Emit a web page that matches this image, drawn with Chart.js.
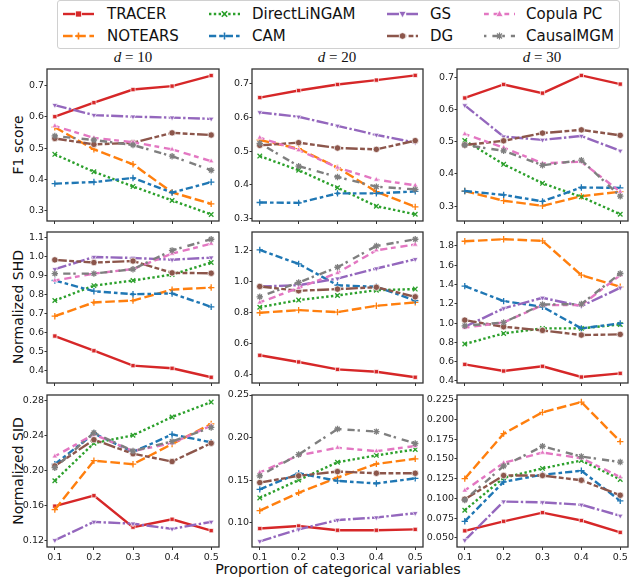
<!DOCTYPE html>
<html lang="en">
<head>
  <meta charset="UTF-8">
  <title>Results vs proportion of categorical variables</title>
  <script src="https://cdn.jsdelivr.net/npm/chart.js"></script>
  <style>
    body {
      margin: 0;
      width: 632px;
      height: 581px;
      position: relative;
      overflow: hidden;
      background: #fff;
      font-family: "DejaVu Sans", sans-serif;
      color: #111;
    }
    canvas { position: absolute; }
    .ylabel {
      position: absolute;
      font-size: 14px;
      line-height: 16px;
      white-space: nowrap;
      transform: translate(-50%, -50%) rotate(-90deg);
    }
    .coltitle {
      position: absolute;
      top: 49px;
      font-family: "Liberation Serif", "DejaVu Serif", serif;
      font-size: 15px;
      line-height: 16px;
      white-space: nowrap;
      transform: translateX(-50%);
    }
    .xlabel {
      position: absolute;
      left: 338px;
      top: 561px;
      font-size: 14.3px;
      line-height: 16px;
      white-space: nowrap;
      transform: translateX(-50%);
    }
    #legend {
      position: absolute;
      left: 57px;
      top: 0px;
      width: 561px;
      height: 47px;
      border: 1px solid #d0d0d0;
      border-radius: 3px;
      background: #fff;
    }
    .item {
      position: absolute;
      font-size: 15px;
      line-height: 18px;
      white-space: nowrap;
    }
    .item svg { position: absolute; top: 4px; }
  </style>
</head>
<body>
  <div id="legend"></div>
  <div class="coltitle" style="left:133px"><i>d</i> = 10</div>
  <div class="coltitle" style="left:337px"><i>d</i> = 20</div>
  <div class="coltitle" style="left:542px"><i>d</i> = 30</div>
  <div class="ylabel" style="left:17.5px; top:145px">F1 score</div>
  <div class="ylabel" style="left:17.5px; top:307px">Normalized SHD</div>
  <div class="ylabel" style="left:17.5px; top:471px">Normalized SID</div>
  <div class="xlabel">Proportion of categorical variables</div>

  <script>
    const proportions = [0.1, 0.2, 0.3, 0.4, 0.5];
    const methods = ['TRACER', 'NOTEARS', 'DirectLiNGAM', 'CAM', 'GS', 'DG', 'Copula PC', 'CausalMGM'];

    // one row per method, same order as `methods`
    const f1_d10 = [
      [0.601, 0.646, 0.688, 0.699, 0.733],
      [0.567, 0.496, 0.448, 0.358, 0.321],
      [0.480, 0.424, 0.377, 0.332, 0.287],
      [0.386, 0.391, 0.404, 0.357, 0.391],
      [0.638, 0.606, 0.601, 0.598, 0.594],
      [0.531, 0.512, 0.517, 0.549, 0.542],
      [0.571, 0.533, 0.519, 0.496, 0.458],
      [0.539, 0.526, 0.510, 0.474, 0.429]
    ];
    const f1_d20 = [
      [0.659, 0.680, 0.698, 0.711, 0.725],
      [0.533, 0.507, 0.451, 0.379, 0.334],
      [0.485, 0.443, 0.391, 0.336, 0.312],
      [0.347, 0.346, 0.374, 0.374, 0.380],
      [0.615, 0.602, 0.575, 0.548, 0.525],
      [0.517, 0.525, 0.509, 0.505, 0.531],
      [0.540, 0.503, 0.451, 0.415, 0.398],
      [0.523, 0.455, 0.423, 0.394, 0.386]
    ];
    const f1_d30 = [
      [0.636, 0.678, 0.651, 0.706, 0.679],
      [0.347, 0.317, 0.301, 0.331, 0.345],
      [0.504, 0.430, 0.371, 0.329, 0.275],
      [0.347, 0.335, 0.315, 0.358, 0.357],
      [0.613, 0.516, 0.506, 0.518, 0.472],
      [0.490, 0.503, 0.527, 0.537, 0.520],
      [0.524, 0.482, 0.433, 0.438, 0.345],
      [0.490, 0.472, 0.427, 0.443, 0.331]
    ];
    const shd_d10 = [
      [0.583, 0.506, 0.428, 0.414, 0.367],
      [0.687, 0.759, 0.769, 0.826, 0.837],
      [0.769, 0.847, 0.874, 0.905, 0.968],
      [0.874, 0.818, 0.802, 0.806, 0.736],
      [0.933, 0.997, 0.992, 0.983, 0.994],
      [0.982, 0.968, 0.976, 0.914, 0.912],
      [0.874, 0.910, 0.934, 1.015, 1.067],
      [0.910, 0.910, 0.933, 1.032, 1.090]
    ];
    const shd_d20 = [
      [0.523, 0.480, 0.432, 0.417, 0.381],
      [0.798, 0.815, 0.802, 0.843, 0.865],
      [0.834, 0.880, 0.910, 0.944, 0.951],
      [1.204, 1.114, 0.976, 0.966, 0.877],
      [0.968, 0.976, 1.019, 1.084, 1.144],
      [0.968, 0.940, 0.951, 0.963, 0.901],
      [0.865, 0.959, 1.056, 1.202, 1.239],
      [0.901, 0.994, 1.092, 1.230, 1.273]
    ];
    const shd_d30 = [
      [0.572, 0.503, 0.552, 0.441, 0.479],
      [1.848, 1.869, 1.852, 1.497, 1.376],
      [0.783, 0.893, 0.945, 0.945, 0.986],
      [1.383, 1.228, 1.169, 0.945, 0.997],
      [0.962, 1.152, 1.262, 1.176, 1.366],
      [1.031, 0.962, 0.924, 0.876, 0.883],
      [0.952, 1.007, 1.186, 1.186, 1.497],
      [0.972, 1.007, 1.193, 1.197, 1.514]
    ];
    const sid_d10 = [
      [0.159, 0.171, 0.135, 0.144, 0.131],
      [0.155, 0.211, 0.207, 0.230, 0.253],
      [0.188, 0.231, 0.240, 0.261, 0.278],
      [0.207, 0.242, 0.221, 0.241, 0.232],
      [0.120, 0.141, 0.139, 0.133, 0.141],
      [0.205, 0.235, 0.219, 0.210, 0.231],
      [0.216, 0.241, 0.222, 0.231, 0.251],
      [0.203, 0.243, 0.222, 0.233, 0.249]
    ];
    const sid_d20 = [
      [0.093, 0.096, 0.091, 0.091, 0.092],
      [0.114, 0.135, 0.153, 0.169, 0.175],
      [0.129, 0.150, 0.171, 0.179, 0.186],
      [0.139, 0.158, 0.149, 0.146, 0.152],
      [0.078, 0.092, 0.103, 0.106, 0.111],
      [0.147, 0.155, 0.160, 0.158, 0.158],
      [0.159, 0.179, 0.188, 0.184, 0.190],
      [0.155, 0.180, 0.210, 0.207, 0.193]
    ];
    const sid_d30 = [
      [0.059, 0.071, 0.082, 0.072, 0.057],
      [0.125, 0.182, 0.209, 0.222, 0.172],
      [0.085, 0.126, 0.138, 0.148, 0.124],
      [0.071, 0.121, 0.130, 0.135, 0.097],
      [0.047, 0.096, 0.095, 0.092, 0.078],
      [0.099, 0.129, 0.129, 0.123, 0.104],
      [0.110, 0.145, 0.158, 0.151, 0.127],
      [0.098, 0.141, 0.166, 0.153, 0.146]
    ];

    const f1Ticks = [0.3, 0.4, 0.5, 0.6, 0.7];
    const shdTicks_d10 = [0.4, 0.5, 0.6, 0.7, 0.8, 0.9, 1.0, 1.1];
    const shdTicks_d20 = [0.4, 0.6, 0.8, 1.0, 1.2];
    const shdTicks_d30 = [0.4, 0.6, 0.8, 1.0, 1.2, 1.4, 1.6, 1.8];
    const sidTicks_d10 = [0.12, 0.16, 0.20, 0.24, 0.28];
    const sidTicks_d20 = [0.10, 0.15, 0.20, 0.25];
    const sidTicks_d30 = [0.050, 0.075, 0.100, 0.125, 0.150, 0.175, 0.200, 0.225];

    // styling (matplotlib tab10 + seaborn dash patterns)
    const colors = ['#d62728', '#ff7f0e', '#2ca02c', '#1f77b4', '#9467bd', '#8c564b', '#e377c2', '#7f7f7f'];
    const LW = 2.4;
    const dashes = [[], [4, 1.5], [1, 1], [3, 1.25, 1.5, 1.25], [5, 1, 1, 1], [5, 1, 2, 1, 2, 1], [2, 2, 3, 1.5], [1, 2.5, 3, 1.2]]
      .map(d => d.map(v => v * LW));
    const markers = ['rect', 'cross', 'crossRot', 'cross', 'triangle', 'circle', 'triangle', 'star'];
    const rotations = [0, 0, 0, 0, 180, 0, 0, 0];
    const strokeMarkers = ['cross', 'crossRot', 'star'];

    // layout of the plot areas (px)
    const plotL = [47, 252, 457], plotW = [172, 171, 171];
    const plotT = [69, 232, 395], plotH = [152, 151, 152];
    const YW = 44, PT = 8, PR = 6, XH = 22;

    const framePlugin = {
      id: 'frame',
      afterDraw(chart) {
        const a = chart.chartArea, ctx = chart.ctx;
        ctx.save();
        ctx.strokeStyle = '#333';
        ctx.lineWidth = 1.3;
        ctx.strokeRect(a.left, a.top, a.right - a.left, a.bottom - a.top);
        ctx.restore();
      }
    };

    function makePanel(row, col, series, yMin, yMax, yTicks, decimals) {
      const canvas = document.createElement('canvas');
      const w = YW + plotW[col] + PR, h = PT + plotH[row] + XH;
      canvas.width = w; canvas.height = h;
      canvas.style.left = (plotL[col] - YW) + 'px';
      canvas.style.top = (plotT[row] - PT) + 'px';
      canvas.style.width = w + 'px'; canvas.style.height = h + 'px';
      document.body.appendChild(canvas);

      const datasets = series.map((vals, i) => {
        const stroke = strokeMarkers.includes(markers[i]);
        return {
          label: methods[i],
          data: proportions.map((x, k) => ({ x: x, y: vals[k] })),
          borderColor: colors[i],
          borderWidth: LW,
          borderDash: dashes[i],
          pointStyle: markers[i],
          pointRotation: rotations[i],
          pointRadius: markers[i] === 'rect' ? 3 : 3.2,
          pointBackgroundColor: colors[i],
          pointBorderColor: stroke ? colors[i] : '#fff',
          pointBorderWidth: stroke ? 1.3 : 0.7,
          order: methods.length - i,
          tension: 0
        };
      });

      new Chart(canvas, {
        type: 'line',
        data: { datasets },
        options: {
          responsive: false,
          animation: false,
          devicePixelRatio: 1,
          layout: { padding: { top: PT, right: PR, left: 0, bottom: 0 } },
          plugins: { legend: { display: false }, tooltip: { enabled: false } },
          scales: {
            x: {
              type: 'linear',
              min: 0.08,
              max: 0.52,
              afterBuildTicks: s => { s.ticks = proportions.map(v => ({ value: v })); },
              afterFit: s => { s.height = XH; },
              ticks: {
                autoSkip: false,
                maxRotation: 0,
                padding: 2,
                color: '#222',
                font: { family: 'DejaVu Sans', size: 9.5 },
                callback: v => row === 2 ? v.toFixed(1) : ''
              },
              grid: { drawOnChartArea: false, drawTicks: true, tickLength: 3, color: '#333' },
              border: { display: false }
            },
            y: {
              min: yMin,
              max: yMax,
              afterBuildTicks: s => { s.ticks = yTicks.map(v => ({ value: v })); },
              afterFit: s => { s.width = YW; },
              ticks: {
                padding: 0.5,
                color: '#222',
                font: { family: 'DejaVu Sans', size: 9.5 },
                callback: v => v.toFixed(decimals)
              },
              grid: { drawOnChartArea: false, drawTicks: true, tickLength: 2.5, color: '#333' },
              border: { display: false }
            }
          }
        },
        plugins: [framePlugin]
      });
    }

    makePanel(0, 0, f1_d10, 0.266, 0.754, f1Ticks, 1);
    makePanel(0, 1, f1_d20, 0.292, 0.744, f1Ticks, 1);
    makePanel(0, 2, f1_d30, 0.254, 0.726, f1Ticks, 1);
    makePanel(1, 0, shd_d10, 0.337, 1.128, shdTicks_d10, 1);
    makePanel(1, 1, shd_d20, 0.344, 1.320, shdTicks_d20, 1);
    makePanel(1, 2, shd_d30, 0.379, 1.944, shdTicks_d30, 1);
    makePanel(2, 0, sid_d10, 0.1123, 0.2861, sidTicks_d10, 2);
    makePanel(2, 1, sid_d20, 0.0713, 0.250, sidTicks_d20, 2);
    makePanel(2, 2, sid_d30, 0.0385, 0.2309, sidTicks_d30, 3);

    // legend: line samples drawn as small svgs
    function markerSvg(i, cx, cy) {
      const c = colors[i];
      switch (markers[i]) {
        case 'rect': return `<rect x="${cx - 3}" y="${cy - 3}" width="6" height="6" fill="${c}" stroke="#fff" stroke-width="0.7"/>`;
        case 'circle': return `<circle cx="${cx}" cy="${cy}" r="3.3" fill="${c}" stroke="#fff" stroke-width="0.7"/>`;
        case 'cross': return `<path d="M${cx - 3.5} ${cy}H${cx + 3.5}M${cx} ${cy - 3.5}V${cy + 3.5}" stroke="${c}" stroke-width="1.6"/>`;
        case 'crossRot': return `<path d="M${cx - 2.7} ${cy - 2.7}L${cx + 2.7} ${cy + 2.7}M${cx + 2.7} ${cy - 2.7}L${cx - 2.7} ${cy + 2.7}" stroke="${c}" stroke-width="1.6"/>`;
        case 'star': return `<path d="M${cx - 3.5} ${cy}H${cx + 3.5}M${cx} ${cy - 3.5}V${cy + 3.5}M${cx - 2.5} ${cy - 2.5}L${cx + 2.5} ${cy + 2.5}M${cx + 2.5} ${cy - 2.5}L${cx - 2.5} ${cy + 2.5}" stroke="${c}" stroke-width="1.2"/>`;
        case 'triangle': {
          const s = rotations[i] === 180 ? -1 : 1;
          return `<path d="M${cx} ${cy - 3.8 * s}L${cx + 3.6} ${cy + 2.6 * s}L${cx - 3.6} ${cy + 2.6 * s}Z" fill="${c}" stroke="#fff" stroke-width="0.7"/>`;
        }
      }
      return '';
    }

    const legendCols = [
      { handle: 5, text: 49 },
      { handle: 151, text: 194 },
      { handle: 329, text: 372 },
      { handle: 426, text: 468 }
    ];
    const legendRows = [4, 26];
    const legend = document.getElementById('legend');
    methods.forEach((name, i) => {
      const col = Math.floor(i / 2), r = i % 2;
      const item = document.createElement('div');
      item.className = 'item';
      item.style.left = legendCols[col].handle + 'px';
      item.style.top = legendRows[r] + 'px';
      const hw = 31;
      item.innerHTML =
        `<svg width="${hw}" height="10" style="left:0">` +
        `<line x1="0" y1="5" x2="${hw}" y2="5" stroke="${colors[i]}" stroke-width="${LW}" stroke-dasharray="${dashes[i].join(' ') || 'none'}"/>` +
        markerSvg(i, hw / 2, 5) + `</svg>` +
        `<span style="position:absolute; left:${legendCols[col].text - legendCols[col].handle}px">${name}</span>`;
      legend.appendChild(item);
    });
  </script>
</body>
</html>
